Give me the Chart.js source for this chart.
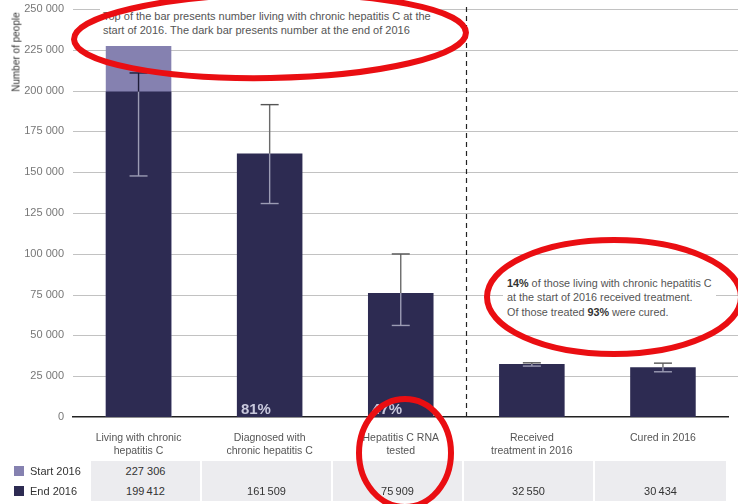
<!DOCTYPE html>
<html lang="en">
<head>
  <meta charset="UTF-8" />
  <script src="https://cdn.jsdelivr.net/npm/chart.js"></script>
  <title>Hepatitis C cascade of care 2016</title>
  <style>
    body { margin: 0; background: #fff; font-family: "Liberation Sans", Arial, sans-serif; }
    #wrap { position: relative; width: 738px; height: 504px; overflow: hidden; }
    .abs { position: absolute; }
    .note { background: #fff; color: #555; font-size: 11px; line-height: 14px; white-space: nowrap; }
    .cell { position: absolute; top: 0; height: 20px; line-height: 20px; font-size: 11px; color: #333; text-align: center; background: #ececef; }
    .key { position: absolute; font-size: 11px; color: #333; line-height: 20px; }
    .sq { position: absolute; width: 10px; height: 10px; left: 14px; }
  </style>
</head>
<body>
<div id="wrap">
  <canvas id="c" width="738" height="504"></canvas>

  <div class="abs" style="left:16px;top:52px;width:0;height:0;">
    <div style="position:absolute;transform:translate(-50%,-50%) rotate(-90deg);font-size:10px;color:#333;white-space:nowrap;">Number of people</div>
  </div>

  <div class="abs note" style="left:100px;top:9px;padding:0 3px;">
    Top of the bar presents number living with chronic hepatitis C at the<br>start of 2016. The dark bar presents number at the end of 2016
  </div>

  <div class="abs note" style="left:503px;top:277px;padding:0 4px;font-size:10.8px;line-height:13.5px;">
    <b style="color:#333">14%</b> of those living with chronic hepatitis C<br>at the start of 2016 received treatment.<br>
    <div style="margin-top:2px">Of those treated <b style="color:#333">93%</b> were cured.</div>
  </div>

  <div id="table"></div>

  <svg class="abs" style="left:0;top:0;" width="738" height="504">
    <g fill="none" stroke="#ea0e12" stroke-width="6">
      <ellipse cx="270" cy="36" rx="196" ry="42" transform="rotate(-1 270 36)" />
      <ellipse cx="614" cy="297" rx="127" ry="57" />
      <ellipse cx="405" cy="453" rx="46" ry="54" />
    </g>
  </svg>
</div>

<script>
  const categories = [
    ['Living with chronic', 'hepatitis C'],
    ['Diagnosed with', 'chronic hepatitis C'],
    ['Hepatitis C RNA', 'tested'],
    ['Received', 'treatment in 2016'],
    ['Cured in 2016']
  ];
  const start2016 = [227306, null, null, null, null];
  const end2016 = [199412, 161509, 75909, 32550, 30434];
  const errLow = [147700, 130800, 56100, 31200, 27700];
  const errHigh = [210800, 191400, 99900, 33200, 33000];
  const pctLabels = [null, '81%', '47%', null, null];
  const startText = ['227 306', '', '', '', ''];
  const endText = ['199\u2009412', '161\u2009509', '75\u2009909', '32\u2009550', '30\u2009434'];

  const darkColor = '#2d2b52';
  const lightColor = '#8581b0';

  // table below the chart
  const wrap = document.getElementById('wrap');
  const colLeft = [91, 202, 333, 464, 595];
  const colWidth = [111, 131, 131, 131, 131];
  function addRow(top, label, color, texts) {
    const key = document.createElement('div');
    key.className = 'key';
    key.style.left = '30px'; key.style.top = top + 'px';
    key.textContent = label;
    wrap.appendChild(key);
    const sq = document.createElement('div');
    sq.className = 'sq';
    sq.style.top = (top + 5) + 'px'; sq.style.background = color;
    wrap.appendChild(sq);
    texts.forEach(function (t, i) {
      const cell = document.createElement('div');
      cell.className = 'cell';
      cell.style.left = colLeft[i] + 'px';
      cell.style.width = (colWidth[i] - (i < 4 ? 2 : 0)) + 'px';
      cell.style.top = top + 'px';
      cell.textContent = t;
      wrap.insertBefore(cell, wrap.querySelector('svg'));
    });
  }
  addRow(461, 'Start 2016', lightColor, startText);
  addRow(481, 'End 2016', darkColor, endText);

  function fmt(v) {
    return v === 0 ? '0' : String(v).replace(/\B(?=(\d{3})+(?!\d))/g, ' ');
  }

  const extras = {
    id: 'extras',
    beforeDatasetsDraw(chart) {
      const ctx = chart.ctx, y = chart.scales.y, x = chart.scales.x, area = chart.chartArea;
      ctx.save();
      ctx.strokeStyle = '#c2c2c2';
      ctx.lineWidth = 1.2;
      y.ticks.forEach(function (t) {
        if (t.value === 0) return;
        const py = Math.round(y.getPixelForValue(t.value)) + 0.5;
        ctx.beginPath(); ctx.moveTo(area.left, py); ctx.lineTo(chart.width, py); ctx.stroke();
      });
      // dashed divider between tested and treated
      const dx = Math.round((x.getPixelForValue(2) + x.getPixelForValue(3)) / 2) + 0.5;
      ctx.strokeStyle = '#222';
      ctx.setLineDash([5, 4]);
      ctx.beginPath(); ctx.moveTo(dx, area.top - 2); ctx.lineTo(dx, area.bottom); ctx.stroke();
      ctx.restore();
    },
    afterDatasetsDraw(chart) {
      const ctx = chart.ctx, y = chart.scales.y, x = chart.scales.x;
      ctx.save();
      ctx.lineWidth = 1.4;
      end2016.forEach(function (v, i) {
        const cx = x.getPixelForValue(i);
        const top = y.getPixelForValue(v);
        const hi = y.getPixelForValue(errHigh[i]);
        const lo = y.getPixelForValue(errLow[i]);
        // segment over the dark bar is light, above it dark
        ctx.strokeStyle = '#9c9cb4';
        ctx.beginPath(); ctx.moveTo(cx, Math.max(hi, top)); ctx.lineTo(cx, lo); ctx.stroke();
        ctx.beginPath(); ctx.moveTo(cx - 9, lo); ctx.lineTo(cx + 9, lo); ctx.stroke();
        ctx.strokeStyle = start2016[i] ? '#1e1c38' : '#6a6a6a';
        if (hi < top) { ctx.beginPath(); ctx.moveTo(cx, hi); ctx.lineTo(cx, top); ctx.stroke(); }
        ctx.strokeStyle = errHigh[i] > v ? (start2016[i] ? '#1e1c38' : '#555') : '#9c9cb4';
        ctx.beginPath(); ctx.moveTo(cx - 9, hi); ctx.lineTo(cx + 9, hi); ctx.stroke();
        if (pctLabels[i]) {
          const meta = chart.getDatasetMeta(0).data[i];
          ctx.fillStyle = '#c8c8dc';
          ctx.font = 'bold 15px "Liberation Sans", Arial, sans-serif';
          ctx.textBaseline = 'alphabetic';
          ctx.fillText(pctLabels[i], meta.x - meta.width / 2 + 4, y.getPixelForValue(0) - 3);
        }
      });
      ctx.restore();
    }
  };

  new Chart(document.getElementById('c'), {
    type: 'bar',
    data: {
      labels: categories,
      datasets: [
        { label: 'End 2016', data: end2016, backgroundColor: darkColor, grouped: false, order: 0 },
        { label: 'Start 2016', data: start2016, backgroundColor: lightColor, grouped: false, order: 1 }
      ]
    },
    options: {
      responsive: false,
      animation: false,
      devicePixelRatio: 1,
      barPercentage: 0.5,
      categoryPercentage: 1,
      layout: { padding: { top: 9, right: 9.5, left: 0, bottom: 0 } },
      plugins: { legend: { display: false }, tooltip: { enabled: false } },
      scales: {
        x: {
          grid: { display: false },
          border: { display: true, color: '#222', width: 1.5 },
          ticks: {
            color: '#555', padding: 6, maxRotation: 0, autoSkip: false,
            font: { family: '"Liberation Sans", Arial, sans-serif', size: 10.5, lineHeight: 1.3 }
          },
          afterFit(scale) { scale.height = 87; }
        },
        y: {
          min: 0, max: 250000,
          grid: { display: false },
          border: { display: false },
          ticks: {
            stepSize: 25000, color: '#777', padding: 1,
            font: { family: '"Liberation Sans", Arial, sans-serif', size: 11 },
            callback: function (v) { return fmt(v); }
          },
          afterFit(scale) { scale.width = 73; }
        }
      }
    },
    plugins: [extras]
  });
</script>
</body>
</html>
